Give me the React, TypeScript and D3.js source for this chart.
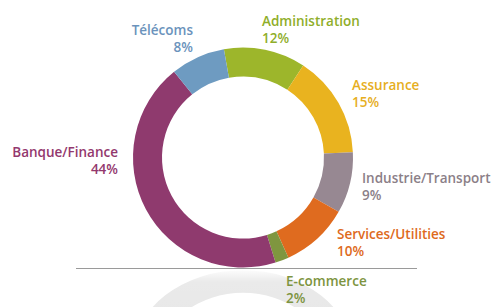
import React from "react";
import * as d3 from "d3";

const categories = ["Administration", "Assurance", "Industrie/Transport", "Services/Utilities", "E-commerce", "Banque/Finance", "Télécoms"];
const values = [12, 15, 9, 10, 2, 44, 8];
const sliceColors = ["#9db62b", "#e9b31f", "#978892", "#df6b1f", "#7f963f", "#8f3a6e", "#6e9bc1"];
const textColors = ["#8fae2a", "#e6ae1e", "#8b8088", "#de6a1c", "#7d943f", "#93386e", "#6b93bc"];
const labels = ["Administration", "Assurance", "Industrie/Transport", "Services/Utilities", "E-commerce", "Banque/Finance", "Télécoms"];
const pctLabels = ["12%", "15%", "9%", "10%", "2%", "44%", "8%"];
// label anchor positions (x, baseline y of first line, anchor)
const labelPos: [number, number, string][] = [
  [262, 26, "start"],
  [352, 90, "start"],
  [362, 183, "start"],
  [337, 239, "start"],
  [286, 286, "start"],
  [118, 157, "end"],
  [193, 35, "end"],
];

const W = 497, H = 307;
const cx = 243, cy = 157.5, rOuter = 110, rInner = 81;
const startDeg = -10;

export default function App() {
  const pie = d3.pie<number>().sort(null).value((d) => d)
    .startAngle((startDeg * Math.PI) / 180)
    .endAngle(((startDeg + 360) * Math.PI) / 180);
  const arcs = pie(values);
  const arc = d3.arc<d3.PieArcDatum<number>>().innerRadius(rInner).outerRadius(rOuter);
  const ring = d3.arc<any>().innerRadius(rInner).outerRadius(rOuter).startAngle(0).endAngle(2 * Math.PI);
  const lineY = 268.5;
  return (
    <svg width={W} height={H} style={{ position: "absolute", left: 0, top: 0, background: "#fff" }}>
      <defs>
        <linearGradient id="fadeWhite" x1="0" y1={lineY} x2="0" y2={H} gradientUnits="userSpaceOnUse">
          <stop offset="0" stopColor="#ffffff" stopOpacity="1" />
          <stop offset="0.35" stopColor="#ffffff" stopOpacity="0.25" />
          <stop offset="1" stopColor="#ffffff" stopOpacity="0.2" />
        </linearGradient>
        <clipPath id="below">
          <rect x={0} y={lineY + 1} width={W} height={H} />
        </clipPath>
      </defs>
      <g clipPath="url(#below)">
        <g transform={`translate(${cx},356) scale(1,0.78)`}>
          <path d={ring(null) as string} fill="#e3e3e3" />
        </g>
        <rect x={0} y={lineY} width={W} height={H - lineY} fill="url(#fadeWhite)" />
      </g>
      <g transform={`translate(${cx},${cy})`}>
        {arcs.map((a, i) => (
          <path key={categories[i]} d={arc(a) as string} fill={sliceColors[i]} />
        ))}
      </g>
      <line x1={76} x2={417} y1={lineY} y2={lineY} stroke="#9a9a9a" strokeWidth={1.2} />
      <g style={{ fontFamily: "'Open Sans', sans-serif", fontWeight: 600, fontSize: 13.5 }}>
        {labels.map((l, i) => (
          <text key={l} x={labelPos[i][0]} y={labelPos[i][1]} fill={textColors[i]} textAnchor={labelPos[i][2] as any}>
            <tspan x={labelPos[i][0]}>{l}</tspan>
            <tspan x={labelPos[i][0]} dy={16.5}>{pctLabels[i]}</tspan>
          </text>
        ))}
      </g>
    </svg>
  );
}
